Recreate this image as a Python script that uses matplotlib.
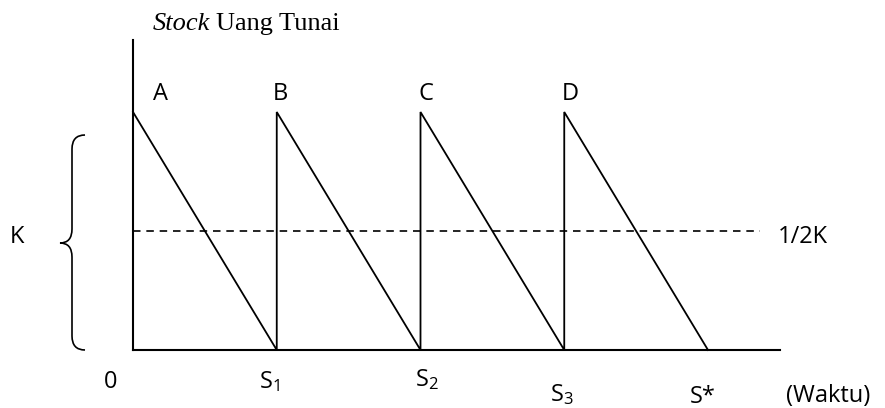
import numpy as np
import matplotlib.pyplot as plt
from matplotlib.path import Path
from matplotlib.patches import PathPatch

plt.rcParams['font.family'] = ['Open Sans', 'DejaVu Sans']
plt.rcParams['mathtext.fontset'] = 'custom'
plt.rcParams['mathtext.rm'] = 'Open Sans'
plt.rcParams['mathtext.it'] = 'Open Sans'

# sawtooth: cash stock K at the start of each period, run down to 0
K = 1.0
periods = [0, 1, 2, 3, 4]
peak_labels = ['A', 'B', 'C', 'D']
time_labels = ['0', 'S$_1$', 'S$_2$', 'S$_3$', 'S*']

# pixel -> data mapping for a 885x408 canvas
px_per_t = 143.75
px_per_k = 238.0
x0_px, y0_px = 133.0, 350.0

def tx(px):
    return (px - x0_px) / px_per_t

def ty(py):
    return (y0_px - py) / px_per_k

fig = plt.figure(figsize=(8.85, 4.08), dpi=100)
ax = fig.add_axes([0, 0, 1, 1])
ax.set_xlim(tx(0), tx(885))
ax.set_ylim(ty(408), ty(0))
ax.axis('off')

# sawtooth
xs, ys = [], []
for i in range(len(periods) - 1):
    xs += [periods[i], periods[i + 1]]
    ys += [K, 0]
ax.plot(xs, ys, color='black', lw=1.3, solid_joinstyle='miter')

# axes lines
ax.plot([0, 0], [0, ty(40)], color='black', lw=1.5)
ax.plot([0, tx(780)], [0, 0], color='black', lw=1.5)

# half K dashed line
ax.plot([0, tx(760)], [K / 2, K / 2], color='black', lw=1.2, ls=(0, (4.5, 3.5)))

# brace for K
xr, xm, xt = tx(85), tx(72), tx(60)
yt, yb = ty(135), ty(350)
ymid = ty(243)
dy = ty(0) - ty(14)
verts = [(xr, yt), (xm, yt), (xm, yt - dy),
         (xm, ymid + dy),
         (xm, ymid), (xt, ymid),
         (xm, ymid), (xm, ymid - dy),
         (xm, yb + dy),
         (xm, yb), (xr, yb)]
codes = [Path.MOVETO, Path.CURVE3, Path.CURVE3,
         Path.LINETO,
         Path.CURVE3, Path.CURVE3,
         Path.CURVE3, Path.CURVE3,
         Path.LINETO,
         Path.CURVE3, Path.CURVE3]
ax.add_patch(PathPatch(Path(verts, codes), fill=False, lw=1.2, color='black'))

fs = 17
ax.text(tx(17), ty(243), 'K', fontsize=fs, ha='center', va='baseline')
ax.text(tx(778), ty(243), '1/2K', fontsize=fs, ha='left', va='baseline')

peak_x_px = [160.5, 280, 426, 570]
for lab, px in zip(peak_labels, peak_x_px):
    ax.text(tx(px), ty(100), lab, fontsize=fs, ha='center', va='baseline')

time_x_px = [111, 269, 427, 562, 703]
time_y_px = [388, 388, 386, 401, 403]
for lab, px, py in zip(time_labels, time_x_px, time_y_px):
    ax.text(tx(px), ty(py), lab, fontsize=fs, ha='center', va='baseline')
ax.text(tx(786), ty(402), '(Waktu)', fontsize=fs, ha='left', va='baseline')

# title of the y axis
t1 = ax.text(tx(153), ty(30), 'Stock', fontsize=19, family='Liberation Serif',
             style='italic', ha='left', va='baseline')
r = fig.canvas.get_renderer()
bb = t1.get_window_extent(renderer=r)
ax.text(tx(bb.x1 + 6), ty(30), 'Uang Tunai', fontsize=19, family='Liberation Serif',
        ha='left', va='baseline')

fig.savefig('out.png', dpi=100)
